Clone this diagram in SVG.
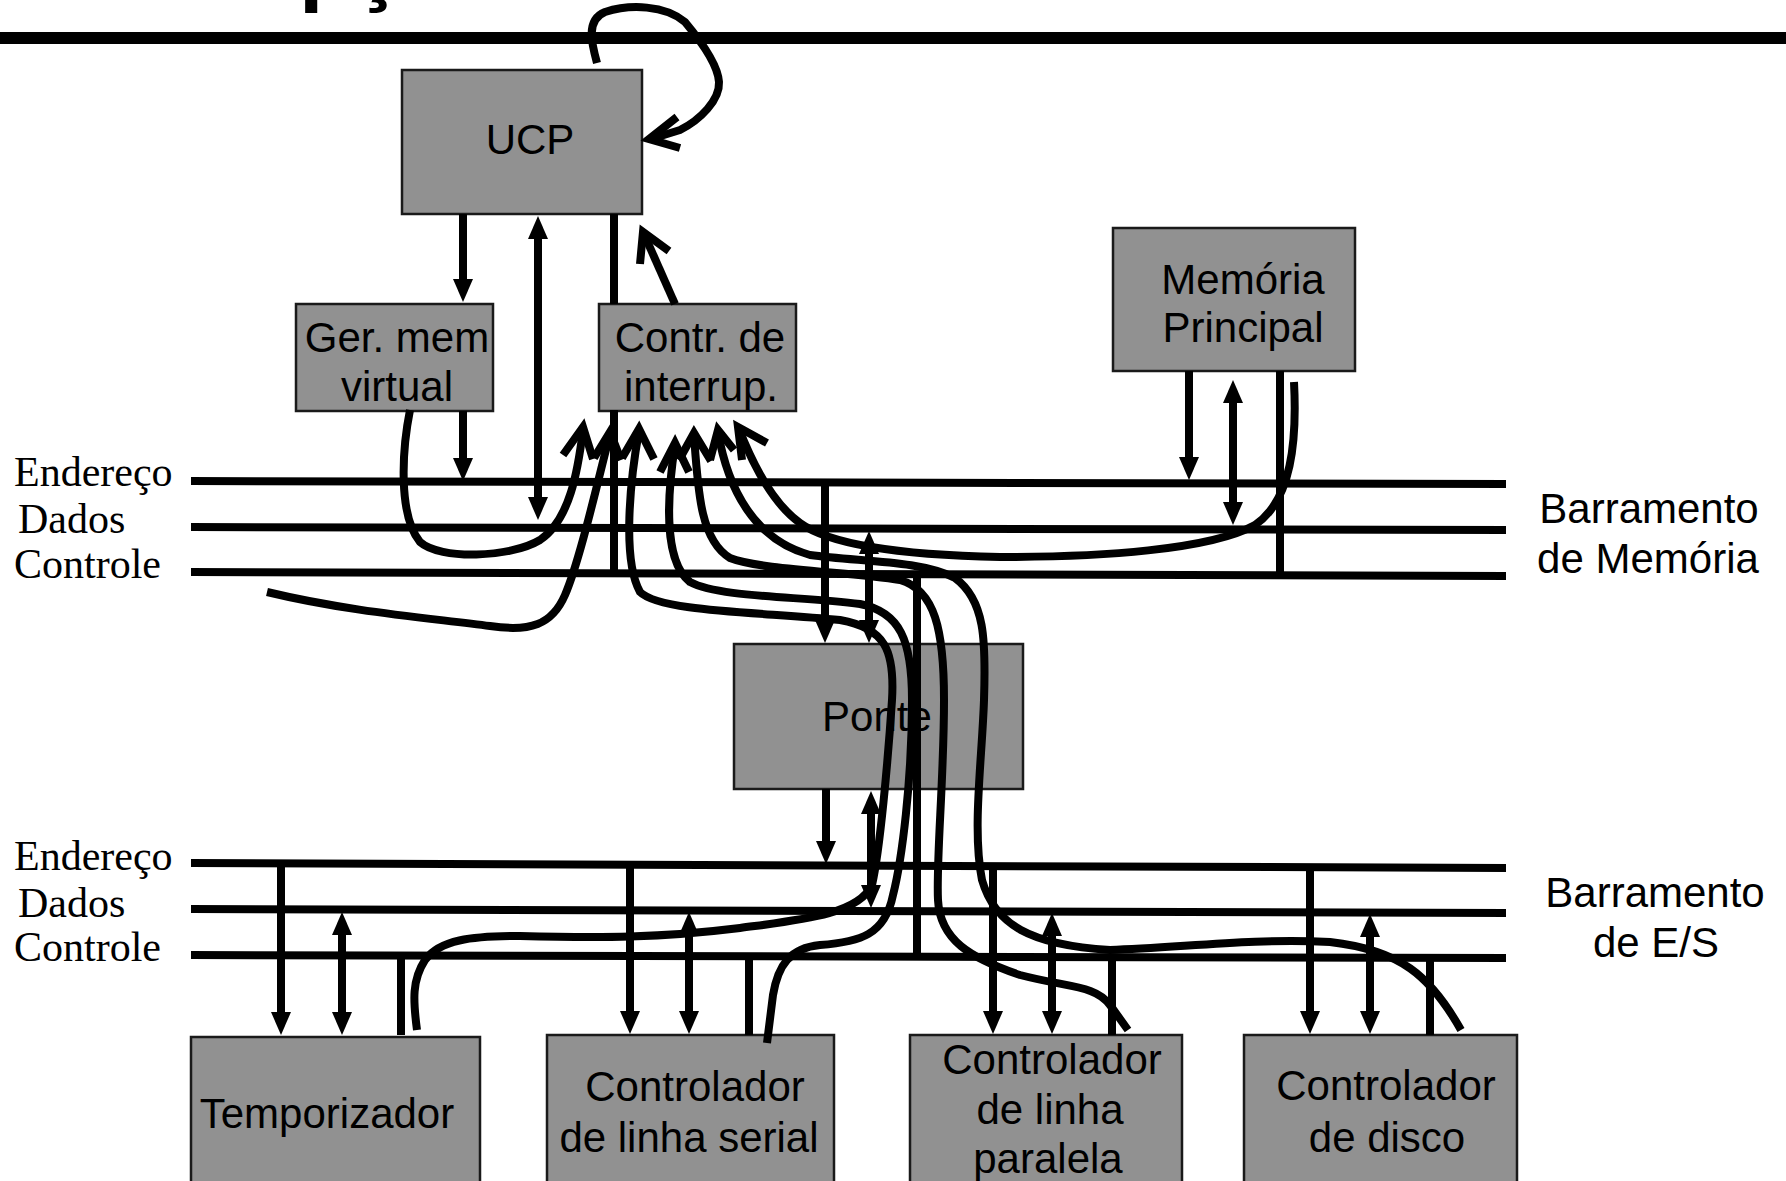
<svg xmlns="http://www.w3.org/2000/svg" width="1786" height="1181" viewBox="0 0 1786 1181">
<defs>
<style>
.bus{stroke:#000;stroke-width:8;fill:none}
.ln{stroke:#000;stroke-width:8;fill:none}
.cv{stroke:#000;stroke-width:8;fill:none;stroke-linejoin:round}
.vh{stroke:#000;stroke-width:8;fill:none;stroke-linejoin:miter}
.box{fill:#919191;stroke:#1a1a1a;stroke-width:2.5}
.t{font-family:"Liberation Sans",Arial,sans-serif;font-size:42px;text-anchor:middle;fill:#000}
.s{font-family:"Liberation Serif","Times New Roman",serif;font-size:42px;fill:#000}
</style>
<marker id="ah" markerUnits="userSpaceOnUse" markerWidth="23" markerHeight="20" refX="3" refY="10" orient="auto-start-reverse" viewBox="0 0 23 20"><path d="M0,0 L23,10 L0,20 z" fill="#000"/></marker>
</defs>
<rect width="1786" height="1181" fill="#fff"/>
<text x="299" y="-5" font-family="Liberation Sans,Arial,sans-serif" font-weight="bold" font-size="88">pç</text>
<line x1="0" y1="38" x2="1786" y2="38" stroke="#000" stroke-width="12"/>
<g id="buses">
<line class="bus" x1="191" y1="481" x2="1506" y2="484"/>
<line class="bus" x1="191" y1="527" x2="1506" y2="530"/>
<line class="bus" x1="191" y1="572" x2="1506" y2="576"/>
<line class="bus" x1="191" y1="863" x2="1506" y2="868"/>
<line class="bus" x1="191" y1="909" x2="1506" y2="913"/>
<line class="bus" x1="191" y1="955" x2="1506" y2="958"/>
<text class="s" x="14" y="486">Endereço</text>
<text class="s" x="18" y="533">Dados</text>
<text class="s" x="14" y="578">Controle</text>
<text class="s" x="14" y="870">Endereço</text>
<text class="s" x="18" y="917">Dados</text>
<text class="s" x="14" y="961">Controle</text>
<text class="t" x="1649" y="523">Barramento</text>
<text class="t" x="1648" y="573">de Memória</text>
<text class="t" x="1655" y="907">Barramento</text>
<text class="t" x="1656" y="957">de E/S</text>
</g>
<g id="ucp"><rect class="box" x="402" y="70" width="240" height="144"/><text class="t" x="530" y="154">UCP</text></g>
<g id="ger"><rect class="box" x="296" y="304" width="197" height="107"/><text class="t" x="397" y="352">Ger. mem</text><text class="t" x="397" y="401">virtual</text></g>
<g id="contr"><rect class="box" x="599" y="304" width="197" height="107"/><text class="t" x="700" y="352">Contr. de</text><text class="t" x="701" y="401">interrup.</text></g>
<g id="memoria"><rect class="box" x="1113" y="228" width="242" height="143"/><text class="t" x="1243" y="294">Memória</text><text class="t" x="1243" y="342">Principal</text></g>
<g id="ponte"><rect class="box" x="734" y="644" width="289" height="145"/><text class="t" x="877" y="731">Ponte</text></g>
<g id="temporizador"><rect class="box" x="191" y="1037" width="289" height="160"/><text class="t" x="327" y="1128">Temporizador</text></g>
<g id="serial"><rect class="box" x="547" y="1035" width="287" height="160"/><text class="t" x="695" y="1101">Controlador</text><text class="t" x="689" y="1152">de linha serial</text></g>
<g id="paralela"><rect class="box" x="910" y="1035" width="272" height="160"/><text class="t" x="1052" y="1074">Controlador</text><text class="t" x="1050" y="1124">de linha</text><text class="t" x="1048" y="1173">paralela</text></g>
<g id="disco"><rect class="box" x="1244" y="1035" width="273" height="160"/><text class="t" x="1386" y="1100">Controlador</text><text class="t" x="1387" y="1152">de disco</text></g>
<g id="connectors">
<line class="ln" x1="463" y1="214" x2="463" y2="282" marker-end="url(#ah)"/>
<line class="ln" x1="538" y1="236" x2="538" y2="500" marker-start="url(#ah)" marker-end="url(#ah)"/>
<line class="ln" x1="614" y1="214" x2="614" y2="304"/>
<line class="ln" x1="614" y1="410" x2="614" y2="574"/>
<line class="ln" x1="463" y1="411" x2="463" y2="461" marker-end="url(#ah)"/>
<line class="ln" x1="675" y1="304" x2="644" y2="234"/>
<polyline class="vh" points="640,264 643,232 669,251"/>
<path class="cv" d="M597 63 C592 45,585 20,605 12 C630 4,665 5,685 22 C700 40,718 65,719 82 C720 100,700 120,680 130 L651 139"/>
<polyline class="vh" points="677,117 649,139 680,148"/>
<line class="ln" x1="1189" y1="371" x2="1189" y2="460" marker-end="url(#ah)"/>
<line class="ln" x1="1233" y1="400" x2="1233" y2="505" marker-start="url(#ah)" marker-end="url(#ah)"/>
<line class="ln" x1="1280" y1="371" x2="1280" y2="577"/>
<line class="ln" x1="825" y1="483" x2="825" y2="623" marker-end="url(#ah)"/>
<line class="ln" x1="869" y1="551" x2="869" y2="623" marker-start="url(#ah)" marker-end="url(#ah)"/>
<line class="ln" x1="917" y1="574" x2="917" y2="957"/>
<line class="ln" x1="826" y1="789" x2="826" y2="844" marker-end="url(#ah)"/>
<line class="ln" x1="871" y1="811" x2="871" y2="888" marker-start="url(#ah)" marker-end="url(#ah)"/>
<line class="ln" x1="281" y1="864" x2="281" y2="1015" marker-end="url(#ah)"/>
<line class="ln" x1="342" y1="932" x2="342" y2="1015" marker-start="url(#ah)" marker-end="url(#ah)"/>
<line class="ln" x1="401" y1="955" x2="401" y2="1035"/>
<line class="ln" x1="630" y1="865" x2="630" y2="1014" marker-end="url(#ah)"/>
<line class="ln" x1="689" y1="932" x2="689" y2="1014" marker-start="url(#ah)" marker-end="url(#ah)"/>
<line class="ln" x1="749" y1="956" x2="749" y2="1035"/>
<line class="ln" x1="993" y1="866" x2="993" y2="1014" marker-end="url(#ah)"/>
<line class="ln" x1="1052" y1="933" x2="1052" y2="1014" marker-start="url(#ah)" marker-end="url(#ah)"/>
<line class="ln" x1="1112" y1="957" x2="1112" y2="1035"/>
<line class="ln" x1="1310" y1="867" x2="1310" y2="1014" marker-end="url(#ah)"/>
<line class="ln" x1="1370" y1="934" x2="1370" y2="1014" marker-start="url(#ah)" marker-end="url(#ah)"/>
<line class="ln" x1="1430" y1="958" x2="1430" y2="1035"/>
<path class="cv" d="M410 410 C402 450,398 515,420 542 C440 560,510 558,540 540 C570 520,578 470,583 430"/>
<path class="cv" d="M267 592 C350 612,430 618,490 626 C530 632,552 625,565 595 C580 560,598 480,610 434"/>
<path class="cv" d="M639 431 C630 480,622 560,640 592 C660 612,760 612,840 620 C885 628,895 650,892 700 C888 760,880 850,872 885 C858 915,800 920,740 928 C660 938,600 938,520 936 C470 936,440 940,425 960 C412 980,413 1000,417 1030"/>
<path class="cv" d="M675 445 C668 490,662 560,690 582 C720 598,800 596,860 604 C900 612,912 640,912 700 C912 780,902 860,893 895 C885 935,860 942,820 945 C790 948,778 965,773 995 L767 1043"/>
<path class="cv" d="M694 435 C698 490,700 540,730 558 C760 570,850 572,900 580 C935 590,944 630,944 700 C944 780,936 860,938 900 C940 940,970 958,1020 975 C1070 988,1095 985,1110 1005 L1128 1030"/>
<path class="cv" d="M718 432 C728 490,755 540,810 555 C860 562,920 560,955 578 C985 600,986 640,984 700 C982 760,972 830,982 880 C995 925,1030 945,1110 950 C1180 948,1250 938,1330 942 C1400 950,1430 975,1461 1030"/>
<path class="cv" d="M1294 382 C1297 440,1292 500,1255 525 C1210 550,1100 557,1000 557 C900 555,830 545,800 523 C775 505,755 470,739 429"/>
<polyline class="vh" points="563,455 583,427 593,459"/>
<polyline class="vh" points="594,458 610,432 621,460"/>
<polyline class="vh" points="622,458 639,429 654,459"/>
<polyline class="vh" points="660,472 675,443 689,472"/>
<polyline class="vh" points="679,460 694,433 711,461"/>
<polyline class="vh" points="710,460 718,430 734,450"/>
<polyline class="vh" points="742,460 738,427 767,443"/>
</g>
</svg>
